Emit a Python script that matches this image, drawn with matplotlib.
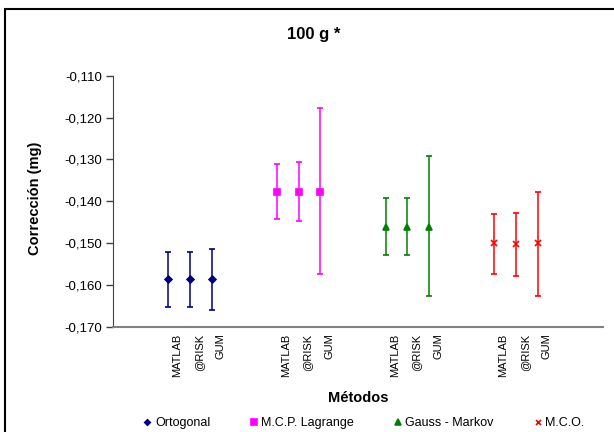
import matplotlib
matplotlib.use("Agg")
import matplotlib.pyplot as plt
from matplotlib.patches import Rectangle
from matplotlib.lines import Line2D

plt.rcParams['font.family'] = ['Liberation Sans', 'DejaVu Sans']
plt.rcParams['axes.unicode_minus'] = False

methods = ["MATLAB", "@RISK", "GUM"]
series = ["Ortogonal", "M.C.P. Lagrange", "Gauss - Markov", "M.C.O."]

# centre values and interval limits (mg)
ort_c = [-0.1587, -0.1586, -0.1587]
ort_lo = [-0.1653, -0.1652, -0.1660]
ort_hi = [-0.1522, -0.1521, -0.1515]

lag_c = [-0.1377, -0.1377, -0.1377]
lag_lo = [-0.1443, -0.1448, -0.1574]
lag_hi = [-0.1311, -0.1307, -0.1178]

gm_c = [-0.1461, -0.1461, -0.1461]
gm_lo = [-0.1528, -0.1528, -0.1627]
gm_hi = [-0.1392, -0.1392, -0.1293]

mco_c = [-0.1501, -0.1502, -0.1501]
mco_lo = [-0.1573, -0.1579, -0.1627]
mco_hi = [-0.1430, -0.1429, -0.1377]

yticks = [-0.170, -0.160, -0.150, -0.140, -0.130, -0.120, -0.110]
ytick_labels = ["-0,170", "-0,160", "-0,150", "-0,140", "-0,130", "-0,120", "-0,110"]

colors = ["#000080", "#FF00FF", "#008000", "#FF0000"]
markers = ["D", "s", "^", "x"]
msizes = [3.5, 5, 5, 4.5]

data = [(ort_c, ort_lo, ort_hi), (lag_c, lag_lo, lag_hi),
        (gm_c, gm_lo, gm_hi), (mco_c, mco_lo, mco_hi)]

W, H = 614, 432
fig = plt.figure(figsize=(W / 100, H / 100), dpi=100)
ax = fig.add_axes([113 / W, 1 - 326.7 / H, (603 - 113) / W, (326.7 - 75.7) / H])

label_shift = 0.41  # category labels sit slightly right of the points
xt = []
xl = []
handles = []
for g, ((c, lo, hi), col, mk, ms) in enumerate(zip(data, colors, markers, msizes)):
    xs = [5 * g + i for i in range(len(methods))]
    yerr = [[ci - l for ci, l in zip(c, lo)], [h - ci for ci, h in zip(c, hi)]]
    ax.errorbar(xs, c, yerr=yerr, fmt=mk, color=col, ecolor=col, ms=ms,
                mew=1.2, elinewidth=1.1, capsize=2.5, capthick=1.1)
    xt += [x + label_shift for x in xs]
    xl += methods
    handles.append(Line2D([], [], marker=mk, color=col, linestyle='none',
                          ms=ms * 0.8, mew=1.2))

ax.set_xlim(-2.54, 19.99)
ax.set_ylim(-0.170, -0.110)
ax.set_yticks(yticks)
ax.set_yticklabels(ytick_labels, fontsize=9.5)
ax.set_xticks(xt)
ax.set_xticklabels(xl, rotation=90, fontsize=8, va='top')
ax.tick_params(axis='x', length=0, pad=5)
ax.tick_params(axis='y', length=5, width=1, color='#404040', pad=3)

for s in ['top', 'right']:
    ax.spines[s].set_visible(False)
ax.spines['left'].set_color('#404040')
ax.spines['bottom'].set_color('#808080')
ax.spines['bottom'].set_linewidth(1.5)

fig.text(314 / W, 1 - 35 / H, "100 g *", ha='center', va='center',
         fontsize=12, fontweight='bold')
fig.text(35 / W, 1 - 198 / H, "Corrección (mg)", ha='center', va='center',
         rotation=90, fontsize=10.5, fontweight='bold')
fig.text(358 / W, 1 - 398 / H, "Métodos", ha='center', va='center',
         fontsize=10.5, fontweight='bold')

fig.legend(handles, series, loc='center', bbox_to_anchor=(364 / W, 1 - 423 / H),
           ncol=4, frameon=False, fontsize=9, handlelength=0.6,
           handletextpad=0.3, columnspacing=3.2, borderpad=0, borderaxespad=0)

fig.add_artist(Rectangle((5 / W, -0.05), 1.2, 1 - 9 / H + 0.05,
                         transform=fig.transFigure, fill=False,
                         edgecolor='black', linewidth=1.5))

fig.savefig("out.png", dpi=100)
